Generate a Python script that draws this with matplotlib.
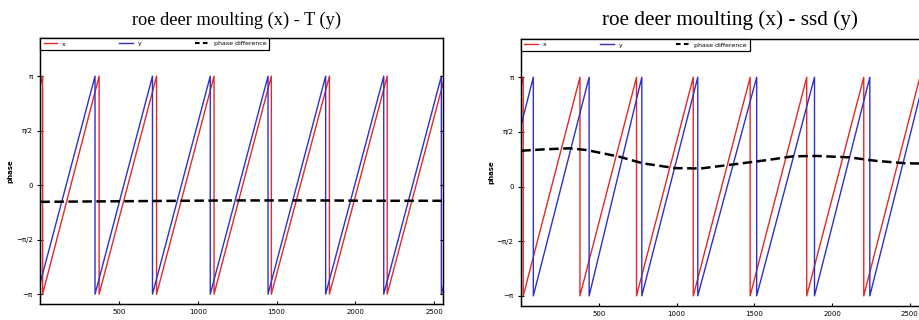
import numpy as np
import matplotlib
matplotlib.use("Agg")
import matplotlib.pyplot as plt
from matplotlib.lines import Line2D

PI = np.pi

# ---- data ----
# times at which each phase wraps from +pi to -pi
left_x_wraps = [-352, 14, 373, 738, 1103, 1467, 1836, 2203, 2570]
left_y_wraps = [-20, 347, 712, 1079, 1446, 1812, 2181, 2547, 2914]
left_diff_t = [0, 300, 600, 900, 1200, 1500, 1800, 2100, 2400, 2560]
left_diff_v = [-0.48, -0.47, -0.46, -0.45, -0.44, -0.44, -0.44, -0.45, -0.45, -0.45]

right_x_wraps = [-352, 13, 378, 742, 1107, 1473, 1837, 2204, 2565]
right_y_wraps = [-280, 78, 437, 776, 1136, 1515, 1887, 2243, 2595]
right_diff_t = [0, 150, 310, 420, 630, 780, 990, 1155, 1370, 1580, 1750, 1900, 2110, 2280, 2470, 2580]
right_diff_v = [1.03, 1.07, 1.10, 1.05, 0.86, 0.67, 0.53, 0.52, 0.64, 0.76, 0.87, 0.88, 0.84, 0.74, 0.67, 0.66]

titles = ["roe deer moulting (x) - T (y)", "roe deer moulting (x) - ssd (y)"]
yticks = [-PI, -PI / 2, 0, PI / 2, PI]
yticklabels = ["\u2212\u03c0", "\u2212\u03c0/2", "0", "\u03c0/2", "\u03c0"]
xticks = [500, 1000, 1500, 2000, 2500]
xmax = [2560, 2580]
legend_labels = ["x", "y", "phase difference"]

RED = "#e02a2a"
BLUE = "#3030c8"


def sawtooth(wraps):
    t, v = [], []
    for a, b in zip(wraps[:-1], wraps[1:]):
        t += [a, b]
        v += [-PI, PI]
    return t, v


fig = plt.figure(figsize=(9.2, 3.2), dpi=100)
positions = [[40.4 / 920, 1 - 304 / 320, 403 / 920, 266 / 320],
             [521.2 / 920, 1 - 305.7 / 320, 401 / 920, 266.7 / 320]]
panels = [(left_x_wraps, left_y_wraps, left_diff_t, left_diff_v),
          (right_x_wraps, right_y_wraps, right_diff_t, right_diff_v)]
title_sizes = [13.2, 15.3]
title_x = [237 / 920, 730 / 920]

for i, (pos, (xw, yw, dt, dv)) in enumerate(zip(positions, panels)):
    ax = fig.add_axes(pos)
    tx, vx = sawtooth(xw)
    ty, vy = sawtooth(yw)
    lx, = ax.plot(tx, vx, color=RED, lw=1.0)
    ly, = ax.plot(ty, vy, color=BLUE, lw=1.0)
    ax.plot(dt, dv, color="black", lw=1.8, dashes=(3.8, 1.8))
    ax.set_xlim(0, xmax[i])
    ax.set_ylim(-1.09 * PI, 1.35 * PI)
    ax.set_yticks(yticks)
    ax.set_yticklabels(yticklabels)
    ax.set_xticks(xticks)
    ax.tick_params(axis="both", labelsize=5, width=0.8)
    ax.tick_params(axis="x", direction="in", length=2.5)
    ax.tick_params(axis="y", direction="inout", length=4, right=False)
    for s in ax.spines.values():
        s.set_linewidth(1.0)
    ax.set_ylabel("phase", fontsize=5, fontweight="bold", labelpad=2)

    ax2 = ax.twinx()
    ax2.set_ylim(ax.get_ylim())
    ax2.set_yticks(yticks)
    ax2.tick_params(axis="y", direction="in", length=2.5, width=0.8, labelright=False)

    dash_handle = Line2D([], [], color="black", lw=1.5, dashes=(2.2, 1.6))
    leg = ax.legend([lx, ly, dash_handle], legend_labels,
                    loc="upper left", bbox_to_anchor=(0, 1), borderaxespad=0,
                    ncol=3, fontsize=4.5, fancybox=False, edgecolor="black",
                    framealpha=1, handlelength=2.2, columnspacing=8.5,
                    borderpad=0.5, handletextpad=0.8)
    leg.get_frame().set_linewidth(0.9)
    fig.text(title_x[i], 1 - 20 / 320, titles[i], ha="center", va="center",
             fontsize=title_sizes[i], family="Liberation Serif")

fig.savefig("out.png", dpi=100)
